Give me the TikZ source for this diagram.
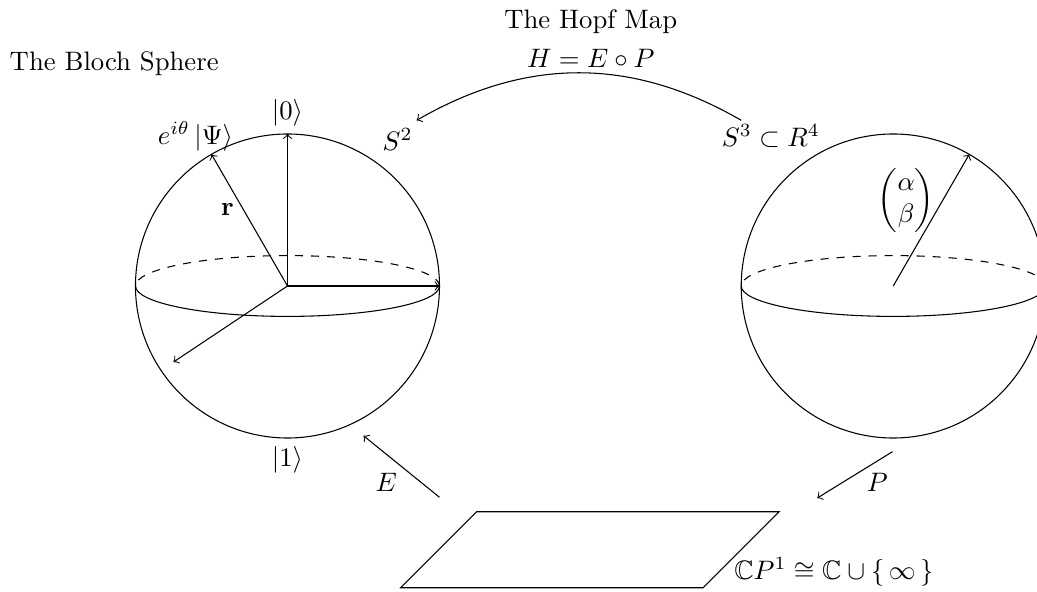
\documentclass[tikz,border=0pt]{standalone}
\usepackage{amsmath,amssymb}
\usetikzlibrary{calc}

\begin{document}
\begin{tikzpicture}[
  tag/.style={inner sep=0pt},
  route/.style={->},
  backside/.style={dashed}
]
  \useasboundingbox (-3.7825,-4.013) rectangle (9.8615,3.763);
  \clip (-3.7825,-4.013) rectangle (9.8615,3.763);
  \coordinate (bloch) at (0,0);
  \coordinate (hopf) at (7.97,0);
  % the two spheres
  \draw (bloch) circle (2);
  \draw (bloch) ++(-2,0) arc (180:360:2 and .4);
  \draw[backside] (bloch) ++(2,0) arc (0:180:2 and .4);
  \draw (hopf) circle (2);
  \draw (hopf) ++(-2,0) arc (180:360:2 and .4);
  \draw[backside] (hopf) ++(2,0) arc (0:180:2 and .4);
  % axes and state vectors
  \coordinate (north) at (0,2);
  \coordinate (east) at (2,0);
  \coordinate (front) at (-1.5,-1);
  \coordinate (state) at (120:2);
  \coordinate (spinor) at ($(hopf)+(60:2)$);
  \draw[route] (bloch) -- (north);
  \draw[route] (bloch) -- (east);
  \draw[route] (bloch) -- (front);
  \draw[route] (bloch) -- (state);
  \draw[route] (hopf) -- (spinor);
  % the plane
  \draw (2.49,-2.97) -- (6.47,-2.97) -- (5.47,-3.97) -- (1.49,-3.97) -- cycle;
  % maps
  \coordinate (hstart) at (5.97,2.18);
  \coordinate (hend) at (1.70,2.18);
  \coordinate (estart) at (2,-2.78);
  \coordinate (eend) at (1,-1.97);
  \coordinate (pstart) at (7.96,-2.18);
  \coordinate (pend) at (6.97,-2.79);
  \draw[route] (hstart) to[bend right=30] (hend);
  \draw[route] (estart) -- (eend);
  \draw[route] (pstart) -- (pend);
  % labels
  \node[tag] (hopftitle) at (3.99,3.48) {The Hopf Map};
  \node[tag] (hopfeq) at (3.99,2.99) {$H = E \circ P$};
  \node[tag] (blochtitle) at (-2.28,2.92) {The Bloch Sphere};
  \node[tag] (ket0) at (0,2.28) {$\lvert 0 \rangle$};
  \node[tag] (ket1) at (0,-2.29) {$\lvert 1 \rangle$};
  \node[tag] (psi) at (-1.21,1.97) {$e^{i\theta}\,\lvert \Psi \rangle$};
  \node[tag] (rvec) at (-.79,1) {$\mathbf{r}$};
  \node[tag] (s2) at (1.45,1.93) {$S^2$};
  \node[tag] (s3) at (6.36,1.97) {$S^3 \subset R^4$};
  \node[tag] (ab) at (8.14,1.13) {$\begin{pmatrix} \alpha \\ \beta \end{pmatrix}$};
  \node[tag] (elabel) at (1.30,-2.59) {$E$};
  \node[tag] (plabel) at (7.76,-2.59) {$P$};
  \node[tag] (cp1) at (7.19,-3.76) {$\mathbb{C}P^1 \cong \mathbb{C} \cup \{\, \infty \,\}$};
\end{tikzpicture}
\end{document}
